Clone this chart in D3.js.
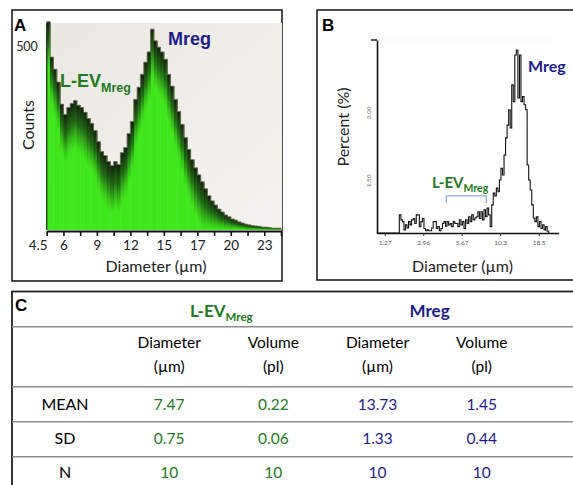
<!DOCTYPE html>
<html><head><meta charset="utf-8">
<script src="https://cdn.jsdelivr.net/npm/d3@7"></script>
<style>
html,body{margin:0;padding:0;background:#fff;}
svg{display:block;}
</style></head><body>
<svg id="fig" width="573" height="485"></svg>
<script>
// ---------- Panel A: Coulter counter histogram (counts per bin; 5 bins per axis interval) ----------
const countsA = [566,470,437,402,342,314,333,344,352,339,333,320,303,290,270,240,213,202,186,175,
                 186,178,210,224,262,295,355,388,423,456,484,546,514,497,484,464,423,391,355,322,
                 287,251,219,191,169,150,131,112,93,79,68,57,49,41,36,30,27,22,19,16,
                 14,12,11,10,8,8,7,5,5,5];
const tickPosA = [0,1,2,3,4,5,6,7,8,9,10,11,12,13,14];
const tickLabelPosA = [0,1,3,5,7,9,11,13];
const tickLabelsA = ["4.5","6","9","12","15","17","20","23"];
const yTicksA = [500];

// ---------- Panel B: percent per channel ----------
const percentB = [0.34,0.34,0.34,0.34,0.34,0.34,0.34,0.34,0.34,0.34,0.34,0.34,0.34,0.34,0.34,
  0.74,0.63,0.59,0.41,0.52,0.45,0.59,0.52,0.63,0.66,
  0.55,0.74,0.74,0.48,0.59,0.66,0.44,0.39,0.41,0.39,
  0.39,0.45,0.59,0.59,0.44,0.48,0.39,0.44,0.55,0.59,
  0.49,0.59,0.52,0.55,0.48,0.59,0.55,0.55,0.48,0.63,
  0.52,0.59,0.44,0.63,0.55,0.70,0.59,0.74,0.63,0.67,
  0.70,0.81,0.66,0.81,0.63,0.85,0.70,0.89,0.74,0.48,
  0.96,1.22,1.16,1.33,1.25,1.51,1.77,1.62,2.06,2.44,
  2.72,3.06,2.66,3.61,3.24,4.27,4.38,3.32,4.27,3.24,
  3.35,3.17,3.06,1.84,1.51,1.29,0.96,0.67,0.59,0.70,
  0.48,0.59,0.44,0.52,0.41,0.48,0.38,0.34];
const tickChannelsB = [5,30,55,80,105];
const tickLabelsB = ["1.27","2.96","5.67","10.3","18.5"];
const yTicksB = [1.5, 3.0];
const bracketChannelsB = [45, 71];

// ---------- Panel C: table ----------
const groupsC = ["L-EV", "Mreg"];
const colHeadersC = [["Diameter","(µm)"],["Volume","(pl)"],["Diameter","(µm)"],["Volume","(pl)"]];
const rowLabelsC = ["MEAN","SD","N"];
const levValuesC = [["7.47","0.22"],["0.75","0.06"],["10","10"]];
const mregValuesC = [["13.73","1.45"],["1.33","0.44"],["10","10"]];

const GREEN = "#207a20", BLUE = "#1c1c8c", LATO = "Lato, 'Open Sans', sans-serif", ARIAL = "'Liberation Sans', Arial, sans-serif";
const svg = d3.select("#fig");
const defs = svg.append("defs");

// Frames
svg.append("rect").attr("x",12).attr("y",10).attr("width",270).attr("height",271).attr("fill","none").attr("stroke","#222").attr("stroke-width",1.6);
svg.append("rect").attr("x",317).attr("y",10).attr("width",270).attr("height",270).attr("fill","none").attr("stroke","#222").attr("stroke-width",1.6);
svg.append("rect").attr("x",12).attr("y",291.5).attr("width",580).attr("height",220).attr("fill","none").attr("stroke","#222").attr("stroke-width",1.8);

// ===== Panel A =====
const xA = d3.scaleLinear().domain([0,14]).range([46.7,281]);
const yA = d3.scaleLinear().domain([0,562.5]).range([230,23]);
const binW = 14/countsA.length;

const bgGrad = defs.append("linearGradient").attr("id","bgA").attr("x1",0).attr("y1",0).attr("x2",1).attr("y2",1);
bgGrad.append("stop").attr("offset",0).attr("stop-color","#ebe8e2");
bgGrad.append("stop").attr("offset",1).attr("stop-color","#f4f3ef");
svg.append("rect").attr("x",xA(0)).attr("y",yA.range()[1]).attr("width",xA(14)-xA(0)+1).attr("height",yA(0)-yA.range()[1]).attr("fill","url(#bgA)");

const shade = defs.append("linearGradient").attr("id","shadeA").attr("x1",0).attr("y1",0).attr("x2",0).attr("y2",1);
shade.append("stop").attr("offset",0).attr("stop-color","#0e160b").attr("stop-opacity",0.95);
shade.append("stop").attr("offset",0.45).attr("stop-color","#173d12").attr("stop-opacity",0.7);
shade.append("stop").attr("offset",1).attr("stop-color","#2a8a18").attr("stop-opacity",0);

const gA = svg.append("g");
gA.selectAll("rect.bar").data(countsA).join("rect").attr("class","bar")
  .attr("x",(d,i)=>xA(i*binW)).attr("width",xA(binW)-xA(0)+0.4)
  .attr("y",d=>yA(d)).attr("height",d=>yA(0)-yA(d)).attr("fill","#3fe61b");
gA.selectAll("rect.sh").data(countsA).join("rect").attr("class","sh")
  .attr("x",(d,i)=>xA(i*binW)).attr("width",xA(binW)-xA(0)+0.4)
  .attr("y",d=>yA(d)).attr("height",d=>Math.min(yA(0)-yA(d),48)).attr("fill","url(#shadeA)");
const stepPts = countsA.map((d,i)=>[i*binW,d]).concat([[14,countsA[countsA.length-1]]]);
gA.append("path").datum(stepPts)
  .attr("d",d3.line().x(d=>xA(d[0])).y(d=>yA(d[1])).curve(d3.curveStepAfter))
  .attr("fill","none").attr("stroke","#7d6f69").attr("stroke-width",1).attr("opacity",0.85);
svg.append("line").attr("x1",xA(0)).attr("x2",xA(0)).attr("y1",yA.range()[1]).attr("y2",yA(0)).attr("stroke","#1a2a14").attr("stroke-width",1.2);

const axA = svg.append("g").attr("transform","translate(0,231)")
  .call(d3.axisBottom(xA).tickValues(tickPosA).tickSize(5).tickSizeOuter(0)
    .tickFormat(v=>{const k=tickLabelPosA.indexOf(v); return k<0?"":tickLabelsA[k];}));
axA.select(".domain").attr("stroke","#111").attr("stroke-width",2.2);
axA.selectAll(".tick line").attr("stroke","#111").attr("stroke-width",1.6);
axA.selectAll(".tick text").attr("font-family",LATO).attr("font-size",13.5).attr("fill","#222").attr("dy","0.78em");
axA.selectAll(".tick text").filter(v=>v===0).attr("dx",-9);

svg.selectAll("text.ya").data(yTicksA).join("text").attr("class","ya")
  .attr("x",27).attr("y",d=>yA(d)+4.5).attr("text-anchor","middle")
  .attr("font-family",LATO).attr("font-size",12.5).attr("fill","#222").text(d=>d);

svg.append("text").attr("transform","translate(34,125) rotate(-90)").attr("text-anchor","middle")
  .attr("font-family",LATO).attr("font-size",16).attr("fill","#222").text("Counts");
svg.append("text").attr("x",156).attr("y",272).attr("text-anchor","middle")
  .attr("font-family",LATO).attr("font-size",16).attr("fill","#222").text("Diameter (µm)");

const levA = svg.append("text").attr("x",60).attr("y",87).attr("font-family",ARIAL).attr("font-weight","bold").attr("fill",GREEN);
levA.append("tspan").attr("font-size",18).text("L-EV");
levA.append("tspan").attr("font-size",12.5).attr("dy",4.5).text("Mreg");
svg.append("text").attr("x",168).attr("y",45).attr("font-family",ARIAL).attr("font-weight","bold").attr("font-size",18).attr("fill",BLUE).text("Mreg");

svg.append("text").attr("x",14).attr("y",31).attr("font-family",ARIAL).attr("font-weight","bold").attr("font-size",17).attr("fill","#000").text("A");

// ===== Panel B =====
const xB = d3.scaleLinear().domain([0,118]).range([377,558.7]);
const yB = d3.scaleLinear().domain([0.34,4.6]).range([233,40]);

svg.append("line").attr("x1",xB(0)).attr("x2",xB(112)).attr("y1",yB(4.6)).attr("y2",yB(4.6)).attr("stroke","#f1f1ee").attr("stroke-width",1);

svg.append("path").datum(percentB)
  .attr("d",d3.line().x((d,i)=>xB(i)).y(d=>yB(d)).curve(d3.curveStep))
  .attr("fill","none").attr("stroke","#141414").attr("stroke-width",1.1);

const axBx = svg.append("g").attr("transform",`translate(0,${yB(0.34)})`)
  .call(d3.axisBottom(xB).tickValues(tickChannelsB).tickSize(3).tickSizeOuter(0)
    .tickFormat((v,i)=>tickLabelsB[i]));
axBx.select(".domain").attr("stroke","#111").attr("stroke-width",1.6);
axBx.selectAll(".tick line").attr("stroke","#333");
axBx.selectAll(".tick text").attr("font-family",LATO).attr("font-size",6.5).attr("fill","#555").attr("dy","0.9em");

const axBy = svg.append("g").attr("transform",`translate(${xB(0)},0)`)
  .call(d3.axisLeft(yB).tickValues(yTicksB).tickSize(0).tickSizeOuter(0).tickFormat(d3.format(".2f")));
axBy.select(".domain").attr("stroke","#111").attr("stroke-width",1.6);
axBy.selectAll(".tick text").attr("font-family",LATO).attr("font-size",6.5).attr("fill","#777")
  .attr("x",null).attr("dy",null).attr("text-anchor","middle")
  .attr("transform","translate(-6,0) rotate(-90)");
svg.append("line").attr("x1",xB(0)-6).attr("x2",xB(0)).attr("y1",yB(4.6)).attr("y2",yB(4.6)).attr("stroke","#111").attr("stroke-width",1.4);

svg.append("text").attr("transform","translate(349,127) rotate(-90)").attr("text-anchor","middle")
  .attr("font-family",LATO).attr("font-size",16).attr("fill","#222").text("Percent (%)");
svg.append("text").attr("x",462.5).attr("y",271.5).attr("text-anchor","middle")
  .attr("font-family",LATO).attr("font-size",16).attr("fill","#222").text("Diameter (µm)");

svg.append("path")
  .attr("d",`M${xB(bracketChannelsB[0])},${yB(1.0)}V${yB(1.16)}H${xB(bracketChannelsB[1])}V${yB(1.0)}`)
  .attr("fill","none").attr("stroke","#8fb1e2").attr("stroke-width",1.3);
const levB = svg.append("text").attr("x",432).attr("y",188.3).attr("font-family",LATO).attr("font-weight","bold").attr("fill",GREEN);
levB.append("tspan").attr("font-size",15).text("L-EV");
levB.append("tspan").attr("font-size",10.5).attr("dy",3.5).text("Mreg");
svg.append("text").attr("x",528).attr("y",71.7).attr("font-family",LATO).attr("font-weight","bold").attr("font-size",16).attr("fill",BLUE).text("Mreg");

svg.append("text").attr("x",322).attr("y",30.5).attr("font-family",ARIAL).attr("font-weight","bold").attr("font-size",17).attr("fill","#000").text("B");

// ===== Panel C =====
const colKeys = ["label","c0","c1","c2","c3"];
const xC = d3.scalePoint().domain(colKeys).range([65,481.7]);
const rowY = d3.scalePoint().domain(rowLabelsC).range([410,478.3]);
const lineYs = [326.7,386.7,421.7,456.7];
svg.selectAll("line.hl").data(lineYs).join("line").attr("class","hl")
  .attr("x1",12).attr("x2",573).attr("y1",d=>d).attr("y2",d=>d).attr("stroke","#8e8e8e").attr("stroke-width",1.5);

svg.append("text").attr("x",15).attr("y",311).attr("font-family",ARIAL).attr("font-weight","bold").attr("font-size",17).attr("fill","#000").text("C");

const grpX = [(xC("c0")+xC("c1"))/2, (xC("c2")+xC("c3"))/2];
const h1 = svg.append("text").attr("x",grpX[0]).attr("y",316.7).attr("text-anchor","middle").attr("font-family",LATO).attr("font-weight","bold").attr("fill",GREEN);
h1.append("tspan").attr("font-size",17).text(groupsC[0]);
h1.append("tspan").attr("font-size",11.5).attr("dy",4.5).text("Mreg");
svg.append("text").attr("x",grpX[1]).attr("y",316.7).attr("text-anchor","middle").attr("font-family",LATO).attr("font-weight","bold").attr("font-size",17).attr("fill",BLUE).text(groupsC[1]);

colHeadersC.forEach((h,i)=>{
  const cx = xC("c"+i);
  svg.append("text").attr("x",cx).attr("y",348.3).attr("text-anchor","middle").attr("font-family",LATO).attr("font-size",15.5).attr("fill","#000").text(h[0]);
  svg.append("text").attr("x",cx).attr("y",371.7).attr("text-anchor","middle").attr("font-family",LATO).attr("font-size",15.5).attr("fill","#000").text(h[1]);
});
rowLabelsC.forEach((r,ri)=>{
  const y = rowY(r);
  svg.append("text").attr("x",xC("label")).attr("y",y).attr("text-anchor","middle").attr("font-family",LATO).attr("font-size",16).attr("fill","#000").text(r);
  levValuesC[ri].forEach((v,j)=>svg.append("text").attr("x",xC("c"+j)).attr("y",y).attr("text-anchor","middle").attr("font-family",LATO).attr("font-size",15.5).attr("fill",GREEN).text(v));
  mregValuesC[ri].forEach((v,j)=>svg.append("text").attr("x",xC("c"+(j+2))).attr("y",y).attr("text-anchor","middle").attr("font-family",LATO).attr("font-size",15.5).attr("fill",BLUE).text(v));
});
</script>
</body></html>
